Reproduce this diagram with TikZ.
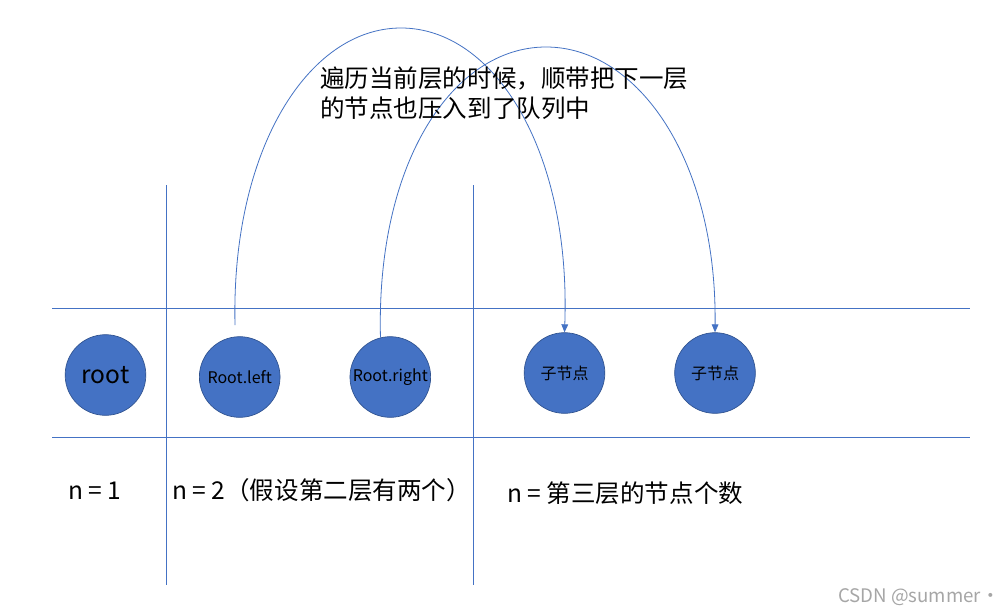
\documentclass[tikz,border=0pt]{standalone}
\usepackage{fontspec}
\setmainfont{Noto Sans CJK SC}
\usetikzlibrary{arrows.meta}
\definecolor{ln}{HTML}{4472C4}
\definecolor{cfill}{HTML}{4472C4}
\definecolor{cdraw}{HTML}{2F528F}
\begin{document}
\begin{tikzpicture}[x=0.75pt,y=-0.75pt,
  rule/.style={draw=ln,line width=0.7pt},
  ball/.style={circle,fill=cfill,draw=cdraw,line width=0.5pt,minimum size=60.5pt,inner sep=0pt,font=\fontsize{12}{14}\selectfont},
  arc/.style={draw=ln,line width=0.6pt,-{Triangle[length=6pt,width=5pt]}},
  plainarc/.style={draw=ln,line width=0.6pt},
  big/.style={inner sep=0pt,font=\fontsize{18.4}{22.5}\selectfont},
]
\useasboundingbox (0,0) rectangle (1005,614);
\fill[white] (0,0) rectangle (1005,614);

% grid lines
\draw[rule] (52,308) -- (970,308);
\draw[rule] (52,437) -- (970,437);
\draw[rule] (166,185) -- (166,585);
\draw[rule] (473,185) -- (473,585);

% nodes
\node[ball,font=\fontsize{18.4}{22}\selectfont] (root) at (105.5,375) {root};
\node[ball] (rl) at (239.7,377) {Root.left};
\node[ball] (rr) at (390.3,377) {Root.right};
\node[ball] (c1) at (564.5,373) {子节点};
\node[ball] (c2) at (715,373) {子节点};

% arcs
\coordinate (s1) at (235,325);
\coordinate (t1) at (401,28);
\coordinate (t2) at (546,47);
\draw[arc] (s1) .. controls (231,150) and (308,28) .. (t1)
  .. controls (494,28) and (571,150) .. (c1.north);
\draw[arc] (rr.104) .. controls (376,160) and (454,47) .. (t2)
  .. controls (638,47) and (717,160) .. (c2.north);

% title text
\node[big,anchor=base west] (title1) at (320,87.5) {遍历当前层的时候，顺带把下一层};
\node[big,anchor=base west] (title2) at (320,117.5) {的节点也压入到了队列中};

% bottom labels
\node[big,anchor=base west] (n1) at (68,499) {n = 1};
\node[big,anchor=base west] (n2) at (172,499) {n = 2（假设第二层有两个）};
\node[big,anchor=base west] (n3) at (507,502) {n = 第三层的节点个数};

% watermark
\node[inner sep=0pt,anchor=base east,text=black!35,font=\fontsize{14}{16}\selectfont] (wm) at (1000,602) {CSDN @summer·};
\end{tikzpicture}
\end{document}
